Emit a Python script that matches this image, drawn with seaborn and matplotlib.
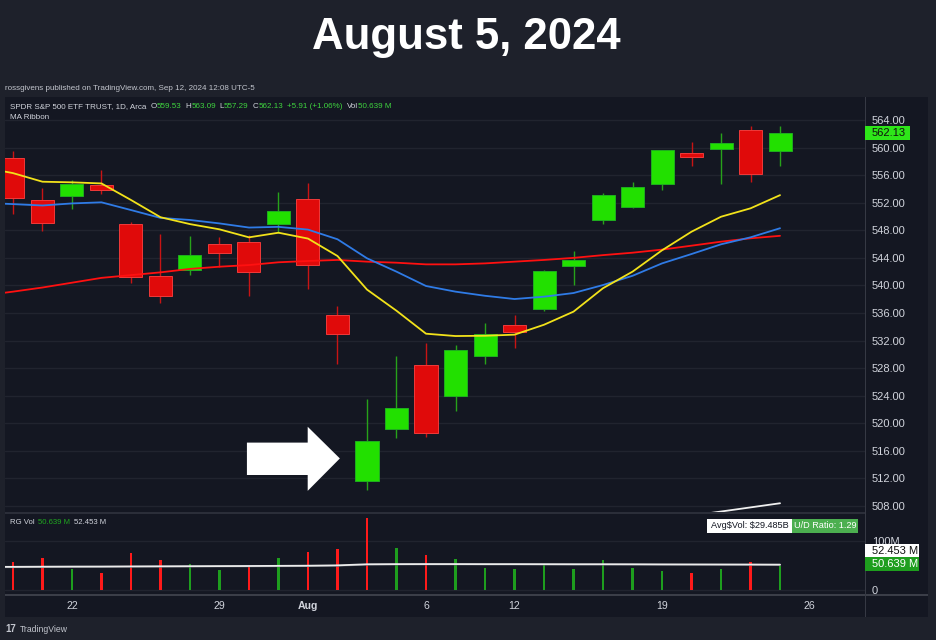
import numpy as np
import matplotlib
matplotlib.use("Agg")
import matplotlib.pyplot as plt
from matplotlib.patches import Polygon, Rectangle
from matplotlib.transforms import IdentityTransform
import seaborn as sns

# SPY daily candles, Jul 18 - Aug 23 2024
dates = ["Jul 18", "Jul 19", "Jul 22", "Jul 23", "Jul 24", "Jul 25", "Jul 26",
         "Jul 29", "Jul 30", "Jul 31", "Aug 1", "Aug 2", "Aug 5", "Aug 6",
         "Aug 7", "Aug 8", "Aug 9", "Aug 12", "Aug 13", "Aug 14", "Aug 15",
         "Aug 16", "Aug 19", "Aug 20", "Aug 21", "Aug 22", "Aug 23"]
opens = [558.51, 552.42, 553.00, 554.54, 548.86, 541.35, 542.28, 546.02, 546.26,
         548.98, 552.57, 535.75, 511.64, 519.22, 528.47, 523.91, 529.81, 534.21,
         536.53, 542.85, 549.50, 551.42, 554.73, 559.15, 559.77, 562.56, 559.53]
highs = [559.52, 554.08, 555.27, 556.74, 549.17, 547.46, 547.19, 547.05, 547.34,
         553.50, 554.87, 536.99, 523.58, 529.75, 531.59, 531.29, 534.51, 535.73,
         542.28, 544.96, 553.36, 555.02, 559.61, 560.84, 562.11, 563.18, 563.09]
lows = [550.43, 547.91, 551.02, 553.28, 540.29, 537.45, 541.49, 542.72, 538.52,
        547.58, 539.43, 528.60, 510.27, 517.87, 518.05, 521.84, 528.56, 530.95,
        536.28, 540.12, 548.88, 551.26, 553.86, 557.33, 554.73, 554.98, 557.29]
closes = [552.66, 548.99, 554.65, 553.78, 541.23, 538.41, 544.44, 544.76, 542.00,
          550.81, 543.01, 532.90, 517.38, 522.15, 518.66, 530.65, 532.99, 533.27,
          542.04, 543.75, 553.07, 554.31, 559.61, 558.70, 560.62, 556.22, 562.13]
prev_close = 556.94  # Jul 17, only used for the volume bar colour
volumes = [57.6, 66.3, 44.0, 35.3, 75.8, 62.3, 54.2, 40.6, 48.1, 66.3, 77.8, 83.9,
           147.5, 86.0, 72.4, 64.3, 46.0, 44.0, 52.8, 44.0, 62.3, 46.0, 40.0, 35.3,
           42.6, 58.2, 50.639]  # millions

# MA ribbon, first value is the session before Jul 18 (off the left edge)
ma_fast = [557.1, 556.3, 555.05, 554.96, 554.8, 552.4, 549.9, 548.9, 548.14, 546.98,
           547.65, 546.8, 544.27, 539.4, 536.33, 533.0, 532.66, 532.7, 532.86, 534.3,
           536.2, 539.6, 542.0, 545.1, 547.8, 549.97, 551.19, 553.1]
ma_mid = [552.0, 551.8, 551.6, 551.9, 552.06, 550.94, 549.8, 549.5, 549.0, 548.4,
          548.5, 548.1, 546.7, 543.94, 542.0, 539.92, 539.1, 538.5, 538.03, 538.37,
          538.9, 540.06, 541.4, 543.2, 544.56, 545.97, 546.98, 548.3]
ma_slow = [538.55, 539.1, 539.7, 540.4, 541.1, 541.5, 541.9, 542.4, 542.72, 542.96,
           543.36, 543.55, 543.7, 543.45, 543.3, 543.06, 543.06, 543.2, 543.45, 543.7,
           544.0, 544.4, 544.75, 545.2, 545.77, 546.35, 546.84, 547.2]
ma_long = [506.6, 507.2, 507.8, 508.4]  # Aug 20 - Aug 23, mostly below the pane
vol_ma = [47.9, 48.0, 48.3, 48.5, 48.6, 48.9, 49.1, 49.3, 49.5, 49.7, 50.0, 50.3,
          51.0, 53.2, 53.5, 53.6, 53.6, 53.5, 53.5, 53.4, 53.3, 53.3, 53.2, 53.0,
          52.9, 52.8, 52.7, 52.453]

date_ticks = [2, 7, 10, 14, 17, 22, 27]
date_labels = ["22", "29", "Aug", "6", "12", "19", "26"]
price_ticks = np.arange(508, 565, 4)

OUTER = "#1e212b"
BG = "#141722"
GRID = "#21242f"
UP = "#22e000"
DOWN = "#e00a0a"
TXT = "#d1d4dc"

W, H = 936, 640
sns.set_theme(style="dark", rc={"axes.facecolor": BG, "figure.facecolor": OUTER})
plt.rcParams["font.family"] = ["Liberation Sans", "DejaVu Sans"]

fig = plt.figure(figsize=(W / 100, H / 100), dpi=100)


def px_box(x0, y0, x1, y1, color, z=5):
    fig.add_artist(Rectangle((x0, H - y1), x1 - x0, y1 - y0, transform=IdentityTransform(),
                             fc=color, ec="none", zorder=z))


def px_text(x, y, s, **kw):
    kw.setdefault("va", "center")
    kw.setdefault("zorder", 6)
    return fig.text(x, H - y, s, transform=IdentityTransform(), **kw)


def px_run(x, y, pieces, size):
    r = fig.canvas.get_renderer()
    for s, c, gap in pieces:
        t = px_text(x, y, s, color=c, fontsize=size)
        x = t.get_window_extent(r).x1 + gap


# chart widget background
px_box(5, 97, 928, 617, BG, z=-10)

ax = fig.add_axes([5 / W, 1 - 512.7 / H, 860 / W, (512.7 - 97) / H])
axv = fig.add_axes([5 / W, 1 - 594 / H, 860 / W, (594 - 512.7) / H])

n = len(dates)
x = np.arange(n)
xm = np.arange(-1, n)
o, h, l, c = map(np.array, (opens, highs, lows, closes))
up = c >= o

# candles
ax.vlines(x[up], l[up], h[up], color="#27a21a", lw=1, zorder=2)
ax.vlines(x[~up], l[~up], h[~up], color="#c81414", lw=1, zorder=2)
ax.bar(x[up], (c - o)[up], bottom=o[up], width=0.78, color=UP, edgecolor="#1fae1f",
       lw=0.7, zorder=3)
ax.bar(x[~up], (o - c)[~up], bottom=c[~up], width=0.78, color=DOWN, edgecolor="#f03a3a",
       lw=0.7, zorder=3)

# MA ribbon
for vals, col in [(ma_slow, "#ff1010"), (ma_mid, "#2f7be6"), (ma_fast, "#f2e21a")]:
    sns.lineplot(x=xm, y=vals, ax=ax, color=col, lw=1.3, sort=False, estimator=None,
                 legend=False, zorder=4)
sns.lineplot(x=x[-len(ma_long):], y=ma_long, ax=ax, color="#f0f0f0", lw=1.3, sort=False,
             estimator=None, legend=False, zorder=4)

ax.set_xlim(-0.27, 28.88)
ax.set_ylim(507.03, 567.34)
ax.set_yticks(price_ticks)
ax.set_yticklabels([f"{v:.2f}" for v in price_ticks])
ax.yaxis.tick_right()
ax.tick_params(axis="y", length=0, pad=5, labelsize=8, labelcolor=TXT)
ax.tick_params(axis="x", bottom=False, labelbottom=False)
ax.set_xticks(date_ticks)
ax.grid(axis="y", color=GRID, lw=1)
ax.grid(axis="x", visible=False)
ax.set_xlabel("")
ax.set_ylabel("")
for s in ax.spines.values():
    s.set_visible(False)

# arrow pointing at the Aug 5 candle
i5 = dates.index("Aug 5")
tx, ty = i5 - 0.92, 514.9
arrow = Polygon([(tx - 3.15, ty + 2.3), (tx - 1.09, ty + 2.3), (tx - 1.09, ty + 4.6), (tx, ty),
                 (tx - 1.09, ty - 4.7), (tx - 1.09, ty - 2.4), (tx - 3.15, ty - 2.4)],
                closed=True, fc="white", ec="none", zorder=6)
ax.add_patch(arrow)

# volume pane
vc = np.r_[prev_close, c[:-1]]
vcol = np.where(c >= vc, "#1e9e1e", "#ff1a1a")
axv.bar(x, volumes, width=0.095, color=vcol, edgecolor="none", lw=0, zorder=2)
sns.lineplot(x=xm, y=np.array(vol_ma) - 0.9, ax=axv, color="#5a5d66", lw=1.2, sort=False,
             estimator=None, legend=False, zorder=3)
sns.lineplot(x=xm, y=vol_ma, ax=axv, color="#ececec", lw=1.3, sort=False, estimator=None,
             legend=False, zorder=4)
axv.set_xlim(-0.27, 28.88)
axv.set_ylim(-7.1, 157.8)
axv.set_yticks([0, 100])
axv.set_yticklabels(["0", "100M"])
axv.yaxis.tick_right()
axv.tick_params(axis="y", length=0, pad=5, labelsize=8, labelcolor=TXT)
axv.set_xticks(date_ticks)
axv.set_xticklabels(date_labels)
axv.tick_params(axis="x", length=0, pad=5, labelsize=7.6, labelcolor=TXT)
axv.get_xticklabels()[2].set_fontweight("bold")
axv.grid(axis="y", color=GRID, lw=1)
axv.grid(axis="x", visible=False)
axv.set_xlabel("")
axv.set_ylabel("")
for s in axv.spines.values():
    s.set_visible(False)

# pane separators
px_box(5, 512, 865, 513.5, "#2b2e39", z=5)
px_box(5, 593.5, 928, 595.5, "#3b3e48", z=5)
px_box(864.5, 97, 865.5, 617, "#363944", z=5)

# title and header
px_text(466, 38, "August 5, 2024", color="white", fontsize=31.5, fontweight="bold",
        ha="center")
px_text(5, 89, "rossgivens published on TradingView.com, Sep 12, 2024 12:08 UTC-5",
        color="#c3c6ce", fontsize=5.8)
chg = c[-1] - c[-2]
G = "#3fd43f"
px_run(10, 106.5, [
    ("SPDR S&P 500 ETF TRUST, 1D, Arca", TXT, 4),
    ("O", TXT, 0), (f"{o[-1]:.2f}", G, 4),
    ("H", TXT, 0), (f"{h[-1]:.2f}", G, 4),
    ("L", TXT, 0), (f"{l[-1]:.2f}", G, 4),
    ("C", TXT, 0), (f"{c[-1]:.2f}", G, 4),
    (f"+{chg:.2f} (+{chg / c[-2] * 100:.2f}%)", G, 4),
    ("Vol", TXT, 0), (f"{volumes[-1]:.3f} M", G, 0),
], 5.8)
px_text(10, 117.5, "MA Ribbon", color=TXT, fontsize=5.8)

# volume legend
px_run(10, 523, [
    ("RG Vol", TXT, 3),
    (f"{volumes[-1]:.3f} M", "#1fa81f", 4),
    (f"{vol_ma[-1]:.3f} M", TXT, 0),
], 5.6)

# Avg$Vol / U/D badge
px_box(707, 519, 792, 533, "white")
px_box(792, 519, 858, 533, "#4caf50")
px_text(749.5, 526, r"Avg\$Vol: \$29.485B", color="#131722", fontsize=6.6, ha="center")
px_text(825, 526, "U/D Ratio: 1.29", color="white", fontsize=6.6, ha="center")

# last price badge
y_last = H - ax.transData.transform((0, c[-1]))[1]
px_box(865, y_last - 7, 910, y_last + 7, "#2ee619")
px_text(872, y_last, f"{c[-1]:.2f}", color="#101010", fontsize=8)

# volume badges
px_box(865, 543.5, 919, 557, "white")
px_text(872, 550.5, f"{vol_ma[-1]:.3f} M", color="#101010", fontsize=8)
px_box(865, 557, 919, 570.5, "#1e9e1e")
px_text(872, 564, f"{volumes[-1]:.3f} M", color="white", fontsize=8)

# footer
px_text(5, 629, "17", color="#c3c6ce", fontsize=7, fontweight="bold")
px_text(20, 629, "TradingView", color="#c3c6ce", fontsize=6.2)

fig.savefig("out.png", dpi=100, facecolor=OUTER)
